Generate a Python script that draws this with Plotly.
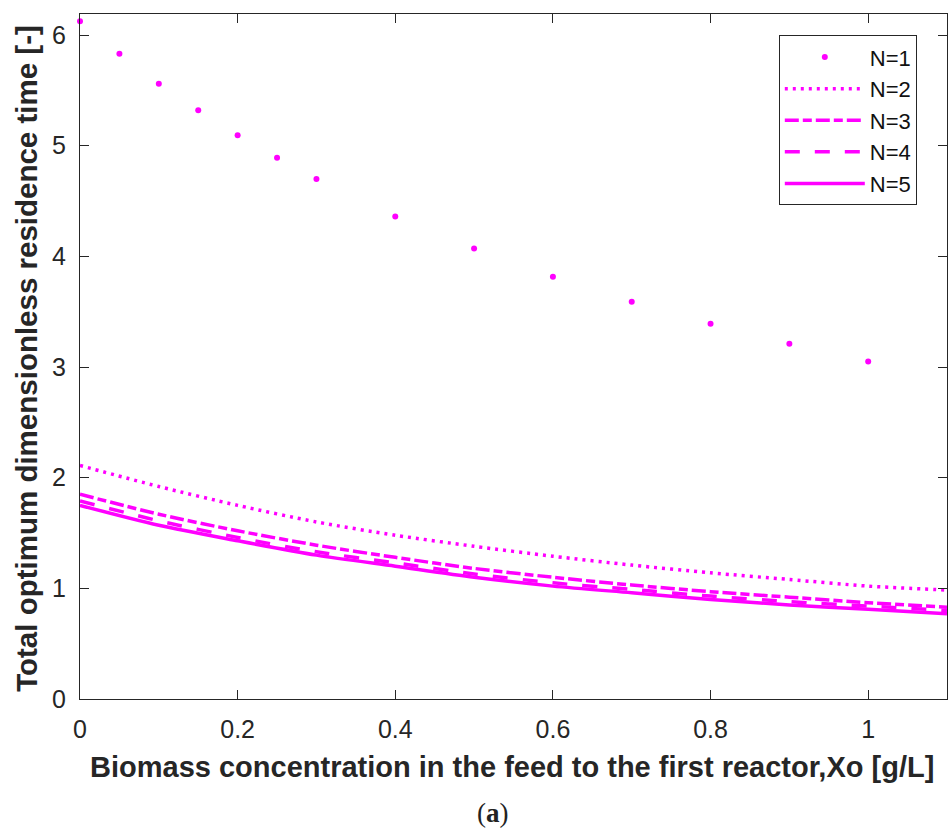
import plotly.graph_objects as go

# Feed biomass concentration Xo [g/L]
x_single = [0, 0.05, 0.1, 0.15, 0.2, 0.25, 0.3, 0.4, 0.5, 0.6, 0.7, 0.8, 0.9, 1.0]
tau_n1 = [6.125, 5.83, 5.56, 5.32, 5.095, 4.89, 4.70, 4.36, 4.07, 3.815, 3.59, 3.39, 3.21, 3.05]

x_multi = [0, 0.1, 0.2, 0.3, 0.4, 0.5, 0.6, 0.7, 0.8, 0.9, 1.0, 1.1]
tau_n2 = [2.11, 1.92, 1.75, 1.60, 1.48, 1.38, 1.29, 1.21, 1.14, 1.08, 1.02, 0.985]
tau_n3 = [1.85, 1.67, 1.52, 1.39, 1.28, 1.18, 1.10, 1.03, 0.97, 0.92, 0.87, 0.83]
tau_n4 = [1.79, 1.61, 1.46, 1.33, 1.23, 1.13, 1.05, 0.99, 0.93, 0.88, 0.84, 0.80]
tau_n5 = [1.75, 1.57, 1.43, 1.30, 1.20, 1.10, 1.02, 0.96, 0.90, 0.85, 0.81, 0.77]

x_ticks = [0, 0.2, 0.4, 0.6, 0.8, 1.0]
x_ticktext = ["0", "0.2", "0.4", "0.6", "0.8", "1"]
y_ticks = [0, 1, 2, 3, 4, 5, 6]

MAGENTA = "#ff00ff"
AXIS = "#262626"
FONT = "Liberation Sans, Arial, sans-serif"

fig = go.Figure()
fig.add_trace(go.Scatter(x=x_single, y=tau_n1, mode="markers", name="N=1",
                         marker=dict(color=MAGENTA, size=6), cliponaxis=False))
for name, ys, dash in [("N=2", tau_n2, "3px,5px"),
                       ("N=3", tau_n3, "14px,4px,9px,4px"),
                       ("N=4", tau_n4, "15px,15px"),
                       ("N=5", tau_n5, "solid")]:
    fig.add_trace(go.Scatter(x=x_multi, y=ys, mode="lines", name=name,
                             line=dict(color=MAGENTA, width=3.5, dash=dash, shape="spline",
                                       smoothing=0.8)))

axis_common = dict(showline=True, linecolor=AXIS, linewidth=1.2, mirror="ticks",
                   ticks="inside", ticklen=9, tickwidth=1.2, tickcolor=AXIS,
                   showgrid=False, zeroline=False,
                   tickfont=dict(family=FONT, size=25, color=AXIS))

fig.update_xaxes(range=[0, 1.1], tickvals=x_ticks, ticktext=x_ticktext,
                 ticklabelstandoff=8, **axis_common)
fig.update_yaxes(range=[0, 6.19], tickvals=y_ticks, ticklabelstandoff=8, **axis_common)

fig.add_annotation(text="<b>Biomass concentration in the feed to the first reactor,Xo [g/L]</b>",
                   xref="paper", yref="paper", x=0.498, y=-0.0993, xanchor="center",
                   yanchor="middle", showarrow=False,
                   font=dict(family=FONT, size=29, color=AXIS))
fig.add_annotation(text="<b>Total optimum dimensionless residence time [-]</b>",
                   xref="paper", yref="paper", x=-0.062, y=0.497, xanchor="center",
                   yanchor="middle", textangle=-90, showarrow=False,
                   font=dict(family=FONT, size=29.5, color=AXIS))
fig.add_annotation(text="(<b>a</b>)", xref="paper", yref="paper", x=0.4763, y=-0.1664,
                   xanchor="center", yanchor="middle", showarrow=False,
                   font=dict(family="Liberation Serif, serif", size=27, color="#222222"))

fig.update_layout(
    width=951, height=828,
    margin=dict(l=80, r=4, t=14, b=129),
    plot_bgcolor="white", paper_bgcolor="white",
    showlegend=True,
    legend=dict(x=0.806, y=0.969, xanchor="left", yanchor="top",
                bgcolor="white", bordercolor=AXIS, borderwidth=1,
                font=dict(family=FONT, size=22, color="#111111"),
                itemwidth=80, tracegroupgap=0),
)

fig.write_html("out.html")
